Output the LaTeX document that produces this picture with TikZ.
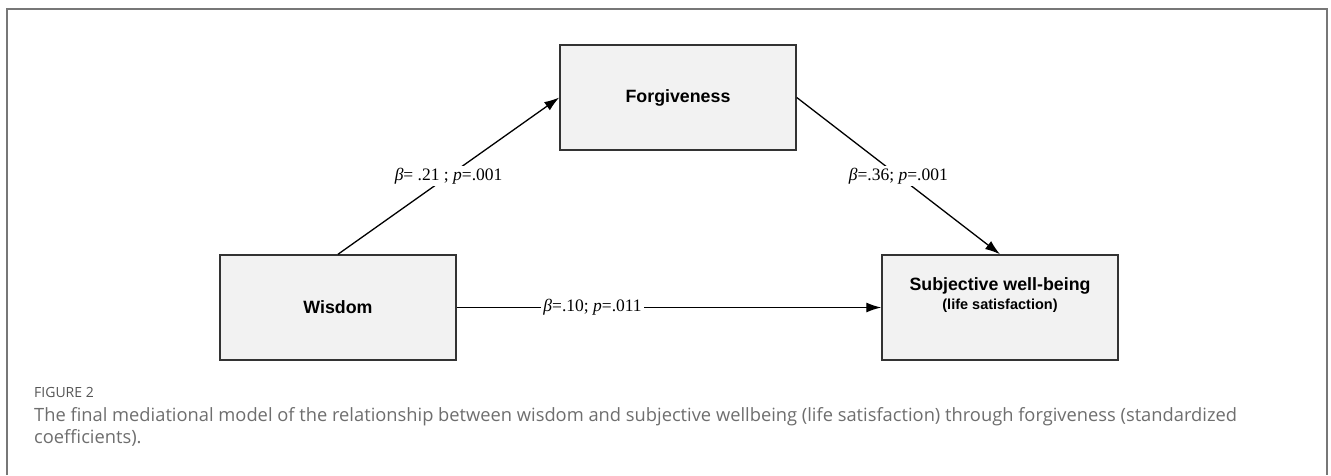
\documentclass[tikz,border=0pt]{standalone}
\usepackage{fontspec}
\setmainfont{Liberation Serif}
\newfontfamily\boxfont{Liberation Sans}
\newfontfamily\capfont{Open Sans}
\usetikzlibrary{arrows.meta}
\definecolor{boxfill}{HTML}{F2F2F2}
\definecolor{boxline}{HTML}{333333}
\definecolor{capgray}{HTML}{6E6E6E}
\definecolor{figgray}{HTML}{555555}
\definecolor{framegray}{HTML}{777777}
\tikzset{
  varbox/.style={draw=boxline, fill=boxfill, line width=1.5pt, minimum width=236pt, minimum height=105pt, inner sep=0pt, align=center, font=\boxfont\bfseries\fontsize{17.8}{20}\selectfont},
  arr/.style={line width=1.3pt, -{Latex[length=15pt,width=10pt]}},
  lab/.style={fill=white, inner sep=2pt, font=\fontsize{17.5}{20}\selectfont},
  captext/.style={anchor=base west, inner sep=0pt, text=capgray, font=\capfont\fontsize{18.3}{21}\selectfont}
}
\begin{document}
\begin{tikzpicture}[x=1pt,y=-1pt]
\useasboundingbox (0,0) rectangle (1331,475);
\fill[white] (0,0) rectangle (1331,475);
% frame
\coordinate (fbl) at (7,475);
\coordinate (ftl) at (7,9);
\coordinate (ftr) at (1327,9);
\coordinate (fbr) at (1327,475);
\draw[framegray, line width=1.5pt] (fbl) -- (ftl) -- (ftr) -- (fbr);
% boxes
\node[varbox] (f) at (678,97.5) {Forgiveness};
\node[varbox] (w) at (338,307.5) {Wisdom};
\node[varbox] (s) at (1000,307.5) {Subjective well-being\\[-1pt]{\fontsize{14.5}{16}\selectfont (life satisfaction)}\\[8pt]};
% paths
\draw[arr] (w.north) -- node[lab] (l1) {{\itshape β}= .21 ; {\itshape p}=.001} (f.west);
\draw[arr] (f.east) -- node[lab] (l2) {{\itshape β}=.36; {\itshape p}=.001} (s.north);
\draw[arr] (w.east) -- node[lab, pos=0.32] (l3) {{\itshape β}=.10; {\itshape p}=.011} (s.west);
% caption
\node[captext, text=figgray, font=\capfont\fontsize{14}{16}\selectfont] (c1) at (34,397) {FIGURE 2};
\node[captext] (c2) at (34,421) {The final mediational model of the relationship between wisdom and subjective wellbeing (life satisfaction) through forgiveness (standardized};
\node[captext] (c3) at (34,443) {coefficients).};
\end{tikzpicture}
\end{document}
